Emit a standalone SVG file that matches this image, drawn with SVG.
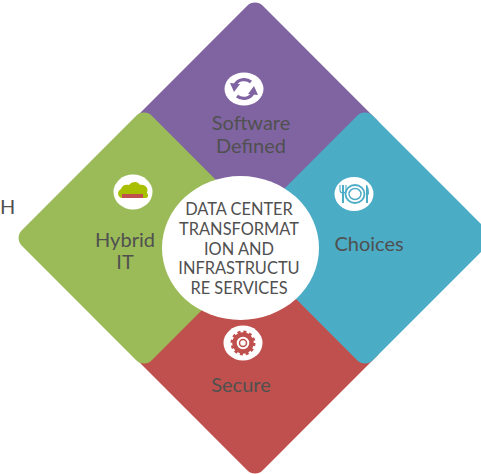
<svg xmlns="http://www.w3.org/2000/svg" width="481" height="474" viewBox="0 0 481 474">
<style>
.t{font-family:"Lato","Carlito","Open Sans",sans-serif;fill:#505050;text-anchor:middle;font-size:20px}
.c{font-size:16.4px}
.w{fill:#fff}
</style>
<rect width="481" height="474" fill="#fff"/>
<g id="connectors"></g>
<g id="node-software">
<rect x="163.1" y="36.1" width="183.8" height="183.8" rx="11" fill="#8064A2" transform="rotate(45 255 128)"/>
<ellipse class="w" cx="244" cy="89" rx="19.5" ry="16.5"/>
<g fill="none" stroke="#8064A2" stroke-width="3.2">
<path d="M235 85a10 9 0 0 1 16-3"/>
<path d="M253 93a10 9 0 0 1-16 3"/>
</g>
<path d="M230 83l10 1-6 8zM258 95l-10-1 6-8z" fill="#8064A2"/>
<text class="t" x="251" y="130">Software</text>
<text class="t" x="251" y="153">Defined</text>
</g>
<g id="node-secure">
<rect x="163.1" y="256.1" width="183.8" height="183.8" rx="11" fill="#C0504D" transform="rotate(45 255 348)"/>
<ellipse class="w" cx="243" cy="343" rx="19.5" ry="17.5"/>
<circle cx="243" cy="343" r="8.5" fill="none" stroke="#C0504D" stroke-width="4.5"/>
<circle cx="243" cy="343" r="11" fill="none" stroke="#C0504D" stroke-width="3" stroke-dasharray="3 2.76"/>
<circle cx="243" cy="343" r="3.5" fill="none" stroke="#C0504D" stroke-width="1.5"/>
<text class="t" x="241" y="392">Secure</text>
</g>
<g id="node-hybrid">
<rect x="52.1" y="146.1" width="183.8" height="183.8" rx="11" fill="#9BBB59" transform="rotate(45 144 238)"/>
<ellipse class="w" cx="133" cy="192" rx="19.5" ry="17.5"/>
<path d="M122 198c-5-1-5-7-1-9 1-4 5-5 8-4 3-4 9-4 11 0 5-1 9 3 7 8 2 2 1 5-1 5z" fill="#A8BF00"/>
<rect x="122" y="194" width="21" height="4" fill="#C0504D"/>
<text class="t" x="125" y="247">Hybrid</text>
<text class="t" x="125" y="269">IT</text>
</g>
<g id="node-choices">
<rect x="273.1" y="146.1" width="183.8" height="183.8" rx="11" fill="#4BACC6" transform="rotate(45 365 238)"/>
<ellipse class="w" cx="354" cy="194" rx="19.5" ry="17"/>
<g fill="none" stroke="#4BACC6">
<ellipse cx="355" cy="194" rx="9.5" ry="9" stroke-width="1.8"/>
<ellipse cx="355" cy="194" rx="6" ry="5.5" stroke-width="1.4"/>
<path d="M343 185v18" stroke-width="2"/>
<path d="M340 185v5q0 3 3 3t3-3v-5" stroke-width="1.1"/>
</g>
<path d="M367 185q2 3 2 9l-1 1v8h-2v-18z" fill="#4BACC6"/>
<text class="t" x="369" y="251">Choices</text>
</g>
<g id="node-center">
<ellipse class="w" cx="240.5" cy="248" rx="78.5" ry="72"/>
<text class="t c" x="239" y="215">DATA CENTER</text>
<text class="t c" x="239" y="235">TRANSFORMAT</text>
<text class="t c" x="239" y="255">ION AND</text>
<text class="t c" x="239" y="274">INFRASTRUCTU</text>
<text class="t c" x="239" y="294">RE SERVICES</text>
</g>
<text class="t" x="0" y="214" style="text-anchor:start">H</text>
</svg>
